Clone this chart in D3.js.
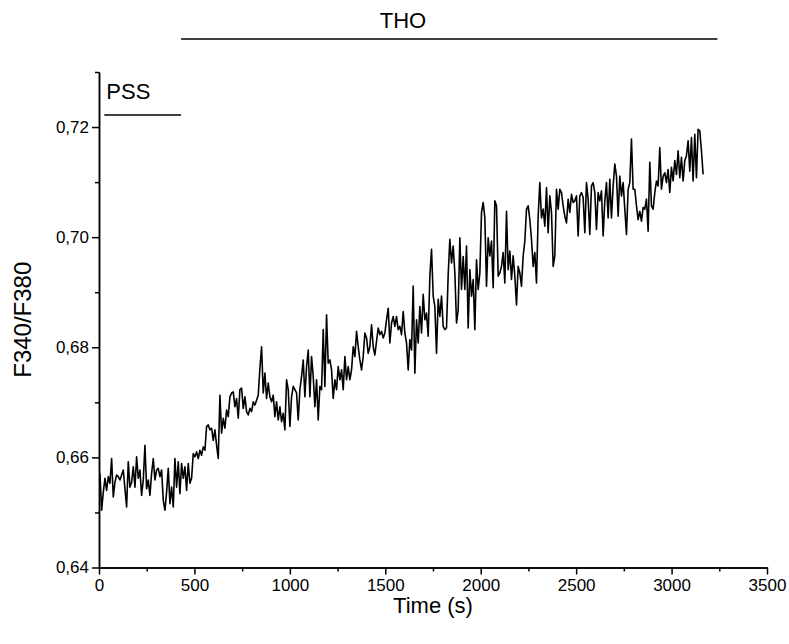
<!DOCTYPE html>
<html>
<head>
<meta charset="utf-8">
<script src="https://cdn.jsdelivr.net/npm/d3@7/dist/d3.min.js"></script>
<style>
  body { margin: 0; background: #fff; }
  svg { display: block; }
  text { font-family: "Liberation Sans", Arial, Helvetica, sans-serif; fill: #000; }
</style>
</head>
<body>
<div id="chart"></div>
<script>
// F340/F380 ratio trace, sampled every DT seconds starting at T0
const T0 = 5;
const DT = 8.73;
const ratio = [
  0.6571,0.6504,0.6537,0.6562,0.6540,0.6565,0.6553,0.6598,0.6528,0.6555,
  0.6568,0.6565,0.6559,0.6568,0.6577,0.6543,0.6510,0.6592,0.6546,0.6555,
  0.6583,0.6546,0.6601,0.6562,0.6577,0.6531,0.6559,0.6622,0.6543,0.6559,
  0.6531,0.6571,0.6598,0.6559,0.6577,0.6580,0.6565,0.6577,0.6522,0.6504,
  0.6537,0.6580,0.6516,0.6546,0.6510,0.6598,0.6546,0.6592,0.6534,0.6589,
  0.6562,0.6583,0.6540,0.6589,0.6553,0.6562,0.6607,
  0.6601,0.6610,0.6598,0.6613,0.6604,0.6619,0.6613,0.6656,0.6659,0.6650,
  0.6653,0.6631,0.6650,0.6622,0.6598,0.6713,0.6644,0.6671,0.6653,0.6686,
  0.6674,0.6710,0.6717,0.6719,0.6692,0.6707,0.6671,0.6723,0.6726,0.6689,
  0.6710,0.6683,0.6677,0.6689,0.6683,0.6701,0.6695,0.6704,0.6713,0.6762,
  0.6801,0.6717,0.6753,0.6707,0.6735,0.6710,0.6701,0.6713,0.6674,0.6701,
  0.6668,0.6692,0.6665,0.6680,0.6650,0.6741,0.6723,
  0.6656,0.6710,0.6729,0.6723,0.6717,0.6668,0.6723,0.6747,0.6777,0.6710,
  0.6765,0.6795,0.6710,0.6783,0.6747,0.6692,0.6741,0.6668,0.6729,0.6723,
  0.6832,0.6729,0.6859,0.6771,0.6777,0.6759,0.6707,0.6741,0.6723,0.6765,
  0.6741,0.6759,0.6723,0.6783,0.6741,0.6765,0.6741,0.6759,0.6801,0.6783,
  0.6829,0.6801,0.6777,0.6759,0.6783,0.6826,0.6817,0.6789,0.6801,0.6841,
  0.6801,0.6786,0.6811,0.6835,0.6823,0.6829,0.6817,
  0.6826,0.6850,0.6871,0.6808,0.6844,0.6856,0.6838,0.6856,0.6832,0.6838,
  0.6823,0.6865,0.6826,0.6808,0.6759,0.6814,0.6795,0.6911,0.6753,0.6850,
  0.6808,0.6874,0.6826,0.6896,0.6850,0.6862,0.6820,0.6929,0.6978,0.6893,
  0.6874,0.6789,0.6887,0.6856,0.6893,0.6838,0.6832,0.6835,0.6932,0.6996,
  0.6953,0.6984,0.6935,0.6844,0.6868,0.6999,0.6905,0.6965,0.6905,0.6984,
  0.6835,0.6941,0.6893,0.6923,0.6832,0.6959,0.6905,
  0.6935,0.7045,0.7063,0.7035,0.6911,0.6999,0.6966,0.6993,0.6908,0.7066,
  0.7057,0.6929,0.6935,0.6947,0.6972,0.6917,0.7047,0.6941,0.6975,0.6923,
  0.6966,0.6929,0.6877,0.6947,0.6935,0.6911,0.6966,0.6993,0.7051,0.7057,
  0.7032,0.6996,0.6947,0.6972,0.6917,0.7038,0.7099,0.7035,0.7051,0.7020,
  0.7090,0.7008,0.7075,0.7045,0.6947,0.6966,0.7087,0.7051,0.7087,0.7081,
  0.7057,0.7038,0.7026,0.7069,0.7045,0.7078,0.7063,
  0.7066,0.7075,0.7002,0.7075,0.7081,0.7072,0.7008,0.7099,0.7069,0.7005,
  0.7093,0.7099,0.7081,0.7014,0.7081,0.7066,0.7084,0.7002,0.7066,0.7099,
  0.7035,0.7105,0.7035,0.7093,0.7133,0.7111,0.7038,0.7111,0.7075,0.7099,
  0.7051,0.7005,0.7087,0.7099,0.7178,0.7087,0.7087,0.7057,0.7032,0.7047,
  0.7029,0.7054,0.7051,0.7069,0.7011,0.7136,0.7057,0.7051,0.7081,0.7102,
  0.7093,0.7163,0.7087,0.7111,0.7117,0.7099,0.7123,
  0.7081,0.7127,0.7102,0.7139,0.7114,0.7157,0.7108,0.7145,0.7102,0.7139,
  0.7148,0.7175,0.7120,0.7181,0.7102,0.7187,0.7108,0.7196,0.7193,0.7157,
  0.7114
];

const xTicks = [0, 500, 1000, 1500, 2000, 2500, 3000, 3500];
const xMinor = [250, 750, 1250, 1750, 2250, 2750, 3250];
const yTicks = [0.64, 0.66, 0.68, 0.70, 0.72];
const yMinor = [0.65, 0.67, 0.69, 0.71, 0.73];

// perfusion periods (s)
const periods = [
  { label: 'PSS', from: 28, to: 430 },
  { label: 'THO', from: 430, to: 3240 }
];

const width = 789, height = 644;
const margin = { top: 72, right: 22, bottom: 76.5, left: 99 };
const W = width - margin.left - margin.right;
const H = height - margin.top - margin.bottom;

const x = d3.scaleLinear().domain([0, 3500]).range([0, W]);
const y = d3.scaleLinear().domain([0.64, 0.73]).range([H, 0]);

const svg = d3.select('#chart').append('svg')
  .attr('width', width).attr('height', height);
const g = svg.append('g').attr('transform', `translate(${margin.left},${margin.top})`);

const comma = d => d.toFixed(2).replace('.', ',');

function styleAxis(ax) {
  ax.selectAll('path, line').attr('stroke', '#000').attr('stroke-width', 1.5);
  ax.selectAll('text').attr('fill', '#000').attr('font-size', '17px')
    .attr('font-family', '"Liberation Sans", Arial, sans-serif');
}

// minor ticks first, then the major axes on top
g.append('g').attr('transform', `translate(0,${H})`)
  .call(d3.axisBottom(x).tickValues(xMinor).tickSize(4).tickSizeOuter(0).tickFormat(''))
  .call(styleAxis);
g.append('g')
  .call(d3.axisLeft(y).tickValues(yMinor).tickSize(4).tickSizeOuter(0).tickFormat(''))
  .call(styleAxis);

g.append('g').attr('transform', `translate(0,${H})`)
  .call(d3.axisBottom(x).tickValues(xTicks).tickSize(7).tickSizeOuter(0).tickPadding(4)
    .tickFormat(d3.format('d')))
  .call(styleAxis);
g.append('g')
  .call(d3.axisLeft(y).tickValues(yTicks).tickSize(7).tickSizeOuter(0).tickPadding(3)
    .tickFormat(comma))
  .call(styleAxis);

// trace
const line = d3.line()
  .x((d, i) => x(T0 + i * DT))
  .y(d => y(d));
g.append('path').datum(ratio)
  .attr('fill', 'none').attr('stroke', '#000')
  .attr('stroke-width', 1.6).attr('stroke-linejoin', 'round')
  .attr('d', line);

// axis titles
svg.append('text')
  .attr('x', margin.left + W / 2).attr('y', 613)
  .attr('text-anchor', 'middle').attr('font-size', '22px')
  .text('Time (s)');
svg.append('text')
  .attr('transform', `translate(31,${margin.top + H / 2}) rotate(-90)`)
  .attr('text-anchor', 'middle').attr('font-size', '24px')
  .text('F340/F380');

// period bars
const pss = periods[0], tho = periods[1];
g.append('line')
  .attr('x1', x(pss.from)).attr('x2', x(pss.to))
  .attr('y1', 43).attr('y2', 43)
  .attr('stroke', '#000').attr('stroke-width', 1.3);
g.append('text')
  .attr('x', x(pss.from) + 2).attr('y', 27)
  .attr('font-size', '22px')
  .text(pss.label);

g.append('line')
  .attr('x1', x(tho.from)).attr('x2', x(tho.to))
  .attr('y1', -33).attr('y2', -33)
  .attr('stroke', '#000').attr('stroke-width', 1.3);
g.append('text')
  .attr('x', 304).attr('y', -44)
  .attr('text-anchor', 'middle').attr('font-size', '22px')
  .text(tho.label);
</script>
</body>
</html>
